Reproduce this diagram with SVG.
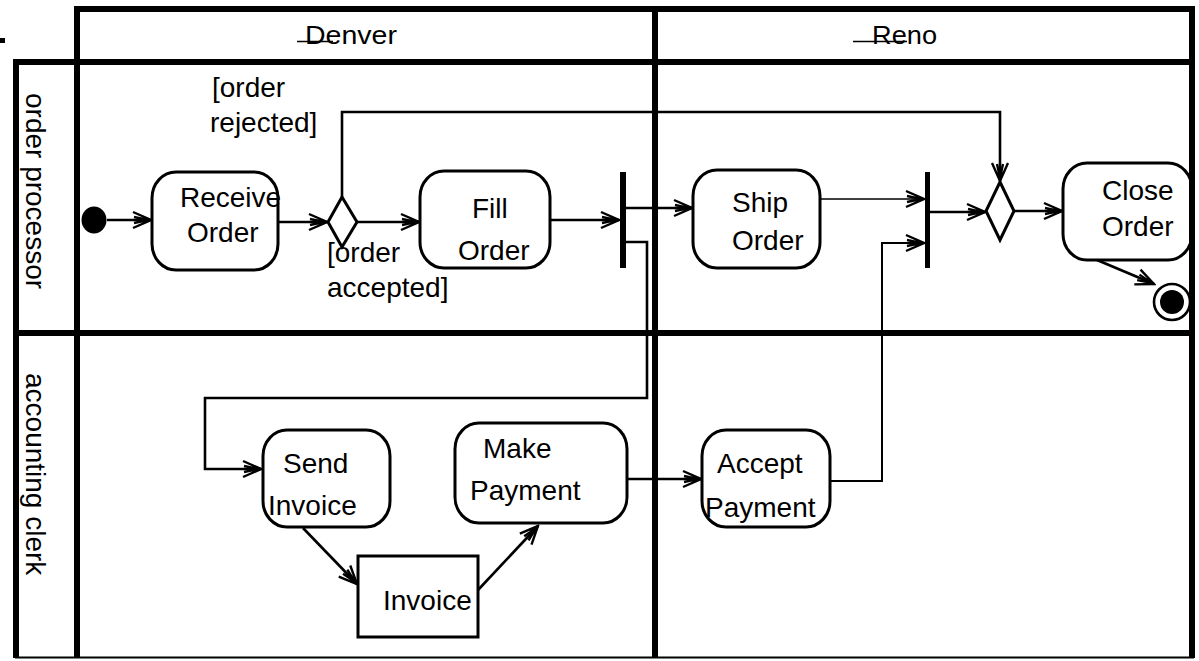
<svg xmlns="http://www.w3.org/2000/svg" width="1199" height="661" viewBox="0 0 1199 661">
  <style>
    text { font-family: "Liberation Sans", Arial, sans-serif; fill: #000; }
    .lbl { font-size: 28px; }
    .hdr { font-size: 26px; }
    .act { fill: #fff; stroke: #000; stroke-width: 3; }
    .flow { fill: none; stroke: #000; stroke-width: 2.6; }
    .thin { fill: none; stroke: #000; stroke-width: 1.6; }
    .lane { fill: none; stroke: #000; stroke-width: 6; stroke-linecap: square; }
  </style>
  <defs>
    <marker id="arr" viewBox="-21 -11 23 22" refX="0" refY="0" markerWidth="23" markerHeight="22" markerUnits="userSpaceOnUse" orient="auto">
      <path d="M-18,-8 L0,0 L-18,8 M-17,-3 L-3,0 L-17,3" fill="none" stroke="#000" stroke-width="2.4"/>
    </marker>
  </defs>
  <rect width="1199" height="661" fill="#fff"/>

  <!-- connectors -->
  <g id="connectors">
    <path class="flow" d="M107,220 H151" marker-end="url(#arr)"/>
    <path class="flow" d="M278,222 H327" marker-end="url(#arr)"/>
    <path class="flow" d="M357,222 H419" marker-end="url(#arr)"/>
    <path class="flow" d="M342,197 V112 H1000 V181" marker-end="url(#arr)"/>
    <path class="flow" d="M550,220 H619" marker-end="url(#arr)"/>
    <path class="flow" d="M626,208 H692" marker-end="url(#arr)"/>
    <path class="flow" d="M626,242 H647 V398 H205 V469 H261" marker-end="url(#arr)"/>
    <path class="thin" d="M820,199 H924" marker-end="url(#arr)"/>
    <path class="flow" d="M830,481 H882 V243 H924" marker-end="url(#arr)" style="stroke-width:2"/>
    <path class="flow" d="M930,212 H985" marker-end="url(#arr)"/>
    <path class="flow" d="M1014,211 H1062" marker-end="url(#arr)"/>
    <path class="flow" d="M1097,260 L1154,284" marker-end="url(#arr)"/>
    <path class="flow" d="M303,528 L357,584" marker-end="url(#arr)"/>
    <path class="flow" d="M478,590 L538,526" marker-end="url(#arr)"/>
    <path class="flow" d="M627,479 H701" marker-end="url(#arr)"/>
  </g>

  <!-- guard labels -->
  <g id="guards">
    <text class="lbl" x="212" y="97">[order</text>
    <text class="lbl" x="210" y="132">rejected]</text>
    <text class="lbl" x="327" y="262">[order</text>
    <text class="lbl" x="327" y="297">accepted]</text>
  </g>

  <!-- nodes -->
  <g id="start">
    <ellipse cx="94" cy="220" rx="12.5" ry="13.5" fill="#000"/>
  </g>
  <g id="receive-order">
    <rect class="act" x="152" y="172" width="126" height="98" rx="24" ry="26"/>
    <text class="lbl" x="180" y="207">Receive</text>
    <text class="lbl" x="187" y="242">Order</text>
  </g>
  <g id="decision-1">
    <polygon class="act" points="342,197 357,222 342,247 328,222"/>
  </g>
  <g id="fill-order">
    <rect class="act" x="420" y="171" width="130" height="97" rx="24" ry="26"/>
    <text class="lbl" x="472" y="218">Fill</text>
    <text class="lbl" x="458" y="260">Order</text>
  </g>
  <g id="fork">
    <rect x="620" y="172" width="6" height="96" fill="#000"/>
  </g>
  <g id="ship-order">
    <rect class="act" x="693" y="170" width="127" height="98" rx="24" ry="26"/>
    <text class="lbl" x="732" y="212">Ship</text>
    <text class="lbl" x="732" y="250">Order</text>
  </g>
  <g id="join">
    <rect x="925" y="172" width="5" height="96" fill="#000"/>
  </g>
  <g id="decision-2">
    <polygon class="act" points="1000,182 1014,211 1000,240 986,211"/>
  </g>
  <g id="close-order">
    <rect class="act" x="1063" y="163" width="129" height="97" rx="24" ry="26"/>
    <text class="lbl" x="1102" y="200">Close</text>
    <text class="lbl" x="1102" y="236">Order</text>
  </g>
  <g id="end">
    <circle cx="1172" cy="302" r="18" fill="#fff" stroke="#000" stroke-width="2.6"/>
    <circle cx="1172" cy="302" r="12" fill="#000"/>
  </g>
  <g id="send-invoice">
    <rect class="act" x="263" y="430" width="127" height="97" rx="24" ry="26"/>
    <text class="lbl" x="283" y="473">Send</text>
    <text class="lbl" x="268" y="515">Invoice</text>
  </g>
  <g id="invoice">
    <rect class="act" x="358" y="556" width="120" height="81"/>
    <text class="lbl" x="383" y="610">Invoice</text>
  </g>
  <g id="make-payment">
    <rect class="act" x="455" y="423" width="172" height="100" rx="24" ry="26"/>
    <text class="lbl" x="483" y="458">Make</text>
    <text class="lbl" x="470" y="500">Payment</text>
  </g>
  <g id="accept-payment">
    <rect class="act" x="702" y="430" width="128" height="97" rx="24" ry="26"/>
    <text class="lbl" x="717" y="473">Accept</text>
    <text class="lbl" x="705" y="517">Payment</text>
  </g>

  <!-- swimlane frame -->
  <g id="swimlanes">
    <rect x="0" y="38" width="5" height="5" fill="#000"/>
    <path class="lane" d="M77,655 V9 H1192 V655"/>
    <path class="lane" d="M16,655 V62 H1192"/>
    <path class="lane" d="M655,9 V655"/>
    <path class="lane" d="M16,333 H1192"/>
    <path d="M15,657.5 H1194" stroke="#000" stroke-width="2" fill="none"/>
    <text class="hdr" x="305" y="44" textLength="92" lengthAdjust="spacingAndGlyphs">Denver</text>
    <line x1="297" y1="41.5" x2="333" y2="41.5" stroke="#000" stroke-width="1.6"/>
    <text class="hdr" x="872" y="44" textLength="65" lengthAdjust="spacingAndGlyphs">Reno</text>
    <line x1="853" y1="41.5" x2="907" y2="41.5" stroke="#000" stroke-width="1.6"/>
    <text class="lbl" transform="translate(26,93) rotate(90)">order processor</text>
    <text class="lbl" transform="translate(26,373) rotate(90)">accounting clerk</text>
  </g>
</svg>
